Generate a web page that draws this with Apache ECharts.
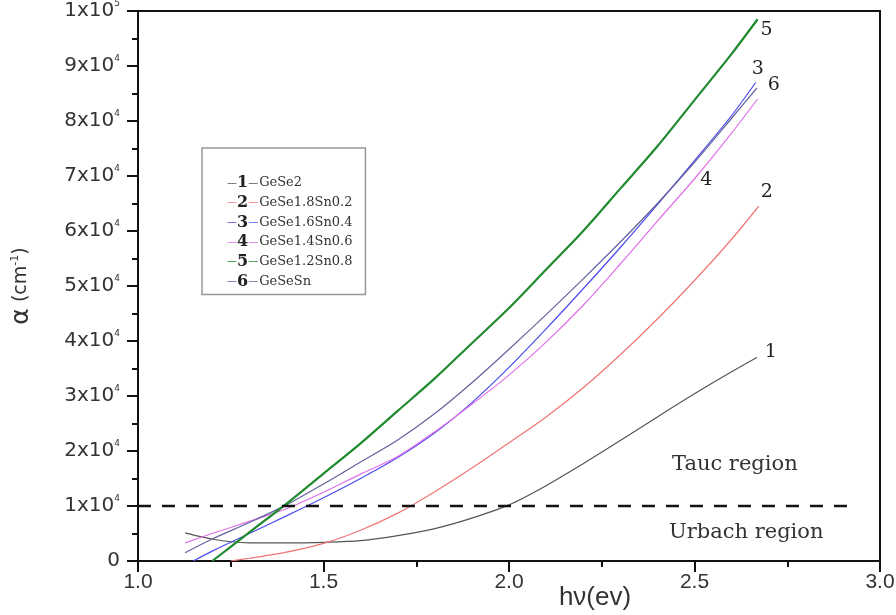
<!DOCTYPE html>
<html>
<head>
<meta charset="utf-8">
<script src="https://cdn.jsdelivr.net/npm/echarts@6/dist/echarts.min.js"></script>
<style>
  html, body { margin: 0; padding: 0; background: #fff; }
  #chart { width: 896px; height: 615px; }
</style>
</head>
<body>
<div id="chart"></div>
<script>
// curve data (hv in eV, alpha in cm^-1)
const names = ["GeSe2", "GeSe1.8Sn0.2", "GeSe1.6Sn0.4", "GeSe1.4Sn0.6", "GeSe1.2Sn0.8", "GeSeSn"];
const colors = ["#555555", "#f07575", "#4a4af0", "#e070e8", "#1f8a2e", "#62629e"];

const hv1 = [1.127, 1.15, 1.2, 1.25, 1.3, 1.4, 1.5, 1.6, 1.7, 1.8, 1.9, 2.0, 2.1, 2.2, 2.3, 2.4, 2.5, 2.6, 2.668];
const alpha1 = [5100, 4700, 4000, 3500, 3300, 3300, 3400, 3700, 4600, 5900, 7800, 10200, 13700, 17700, 21900, 26200, 30400, 34400, 37000];

const hv2 = [1.25, 1.3, 1.4, 1.5, 1.6, 1.7, 1.8, 1.9, 2.0, 2.1, 2.2, 2.3, 2.4, 2.5, 2.6, 2.673];
const alpha2 = [0, 500, 1600, 3200, 5600, 8700, 12600, 16900, 21500, 26200, 31500, 37500, 44000, 51000, 58500, 64500];

const hv3 = [1.149, 1.2, 1.3, 1.4, 1.5, 1.6, 1.7, 1.8, 1.9, 2.0, 2.1, 2.2, 2.3, 2.4, 2.5, 2.6, 2.665];
const alpha3 = [0, 1800, 5000, 8200, 11500, 15000, 18800, 23300, 28800, 35200, 42200, 49500, 57000, 64800, 72800, 81000, 87000];

const hv4 = [1.127, 1.2, 1.3, 1.4, 1.5, 1.6, 1.7, 1.8, 1.9, 2.0, 2.1, 2.2, 2.3, 2.4, 2.5, 2.6, 2.67];
const alpha4 = [3300, 5000, 7200, 9500, 12500, 15800, 19000, 23500, 28500, 33800, 39800, 46500, 54000, 61800, 69500, 77800, 84000];

const hv5 = [1.2, 1.3, 1.4, 1.5, 1.6, 1.7, 1.8, 1.9, 2.0, 2.1, 2.2, 2.3, 2.4, 2.5, 2.6, 2.67];
const alpha5 = [0, 5200, 10400, 15900, 21400, 27300, 33200, 39600, 46000, 53000, 60000, 67700, 75400, 83800, 92200, 98500];

const hv6 = [1.127, 1.2, 1.3, 1.4, 1.5, 1.6, 1.7, 1.8, 1.9, 2.0, 2.1, 2.2, 2.3, 2.4, 2.5, 2.6, 2.668];
const alpha6 = [1500, 4000, 7000, 10200, 14000, 18000, 22000, 26800, 32400, 38500, 44800, 51300, 58000, 65000, 72500, 80500, 86000];

const hvList = [hv1, hv2, hv3, hv4, hv5, hv6];
const alphaList = [alpha1, alpha2, alpha3, alpha4, alpha5, alpha6];

// Tauc / Urbach boundary
const boundaryHv = [1.0, 2.915];
const boundaryAlpha = 10000;

const xTicks = { min: 1.0, max: 3.0, step: 0.5 };
const yTicks = { min: 0, max: 100000, step: 10000 };

const chart = echarts.init(document.getElementById("chart"));

// where each curve number sits relative to the end of its line
const endOffsets = [[0, -5], [-6, -14], [-12, -13], null, [-5, 11], [3, -3]];
const lineWidths = [1.2, 1.2, 1.2, 1.2, 2.2, 1.2];

const legendRich = {
  n: { fontFamily: "DejaVu Serif", fontSize: 16, fontWeight: "bold", color: "#222", lineHeight: 17 },
  t: { fontFamily: "DejaVu Serif", fontSize: 13, color: "#333", lineHeight: 17, padding: [0, 0, 0, 1] }
};
colors.forEach((c, i) => {
  legendRich["d" + (i + 1)] = { fontFamily: "DejaVu Sans", fontSize: 10, color: c, lineHeight: 17 };
});

const series = names.map((name, i) => {
  const s = {
    name: name,
    type: "line",
    data: hvList[i].map((x, j) => [x, alphaList[i][j]]),
    smooth: 0.3,
    symbol: "none",
    lineStyle: { color: colors[i], width: lineWidths[i] },
    itemStyle: { color: colors[i] },
    z: i === 4 ? 4 : 3
  };
  if (endOffsets[i]) {
    s.endLabel = {
      show: true,
      formatter: String(i + 1),
      offset: endOffsets[i],
      fontFamily: "DejaVu Serif",
      fontSize: 19,
      color: "#222"
    };
  } else {
    s.markPoint = {
      symbol: "circle",
      symbolSize: 0,
      data: [{ coord: [2.532, 69300] }],
      label: {
        show: true,
        position: "inside",
        formatter: String(i + 1),
        fontFamily: "DejaVu Serif",
        fontSize: 19,
        color: "#222"
      }
    };
  }
  return s;
});

series.push({
  name: "boundary",
  type: "line",
  data: boundaryHv.map((x) => [x, boundaryAlpha]),
  symbol: "none",
  silent: true,
  lineStyle: { color: "#111", width: 2.5, type: [13, 11] },
  z: 5
});

const option = {
  animation: false,
  backgroundColor: "#fff",
  grid: {
    left: 138,
    right: 16,
    top: 11,
    bottom: 54,
    outerBoundsMode: "none",
    containLabel: false,
    show: true,
    borderColor: "#111",
    borderWidth: 2
  },
  legend: {
    data: names,
    orient: "vertical",
    left: 202,
    top: 148,
    icon: "none",
    itemWidth: 0,
    itemHeight: 10,
    itemGap: 3.7,
    padding: [27, 13, 5, 20],
    borderColor: "#999",
    borderWidth: 1.5,
    selectedMode: false,
    formatter: function (name) {
      const i = names.indexOf(name) + 1;
      return "{d" + i + "|—}{n|" + i + "}{d" + i + "|—}{t|" + name + "}";
    },
    textStyle: { rich: legendRich }
  },
  xAxis: {
    type: "value",
    min: xTicks.min,
    max: xTicks.max,
    interval: xTicks.step,
    name: "hν(ev)",
    nameLocation: "middle",
    nameGap: 24,
    nameMoveOverlap: false,
    nameTextStyle: {
      fontFamily: "Liberation Sans",
      fontSize: 26,
      color: "#333",
      padding: [0, 0, 0, 172]
    },
    axisLine: { show: true, lineStyle: { color: "#111", width: 2 } },
    axisTick: { show: true, length: 11, lineStyle: { color: "#111", width: 2 } },
    minorTick: { show: true, splitNumber: 2, length: 6, lineStyle: { color: "#111", width: 2 } },
    splitLine: { show: false },
    axisLabel: {
      fontFamily: "Liberation Sans",
      fontSize: 21,
      color: "#333",
      margin: 11,
      formatter: (v) => v.toFixed(1)
    }
  },
  yAxis: {
    type: "value",
    min: yTicks.min,
    max: yTicks.max,
    interval: yTicks.step,
    name: "{a|α}{b| (cm}{s|-1}{b|)}",
    nameLocation: "middle",
    nameGap: 104,
    nameMoveOverlap: false,
    nameTextStyle: {
      rich: {
        a: { fontFamily: "DejaVu Sans", fontSize: 25, color: "#333" },
        b: { fontFamily: "DejaVu Sans", fontSize: 19, color: "#333" },
        s: { fontFamily: "DejaVu Sans", fontSize: 11, color: "#333", padding: [0, 0, 13, 0] }
      }
    },
    axisLine: { show: true, lineStyle: { color: "#111", width: 2 } },
    axisTick: { show: true, length: 11, lineStyle: { color: "#111", width: 2 } },
    minorTick: { show: true, splitNumber: 2, length: 6, lineStyle: { color: "#111", width: 2 } },
    splitLine: { show: false },
    axisLabel: {
      margin: 18,
      formatter: function (v) {
        if (v === 0) return "{b|0}";
        if (v === 100000) return "{b|1x10}{s|5}";
        return "{b|" + v / 10000 + "x10}{s|4}";
      },
      rich: {
        b: { fontFamily: "DejaVu Sans", fontSize: 20, color: "#333" },
        s: { fontFamily: "DejaVu Sans", fontSize: 9, color: "#333", padding: [0, 0, 14, 0] }
      }
    }
  },
  graphic: [
    {
      type: "text",
      left: 672,
      top: 454,
      style: { text: "Tauc region", fontFamily: "DejaVu Serif", fontSize: 21, fill: "#333" }
    },
    {
      type: "text",
      left: 669,
      top: 522,
      style: { text: "Urbach region", fontFamily: "DejaVu Serif", fontSize: 21, fill: "#333" }
    }
  ],
  series: series
};

chart.setOption(option);
window.addEventListener("resize", function () {
  chart.resize();
});
</script>
</body>
</html>
